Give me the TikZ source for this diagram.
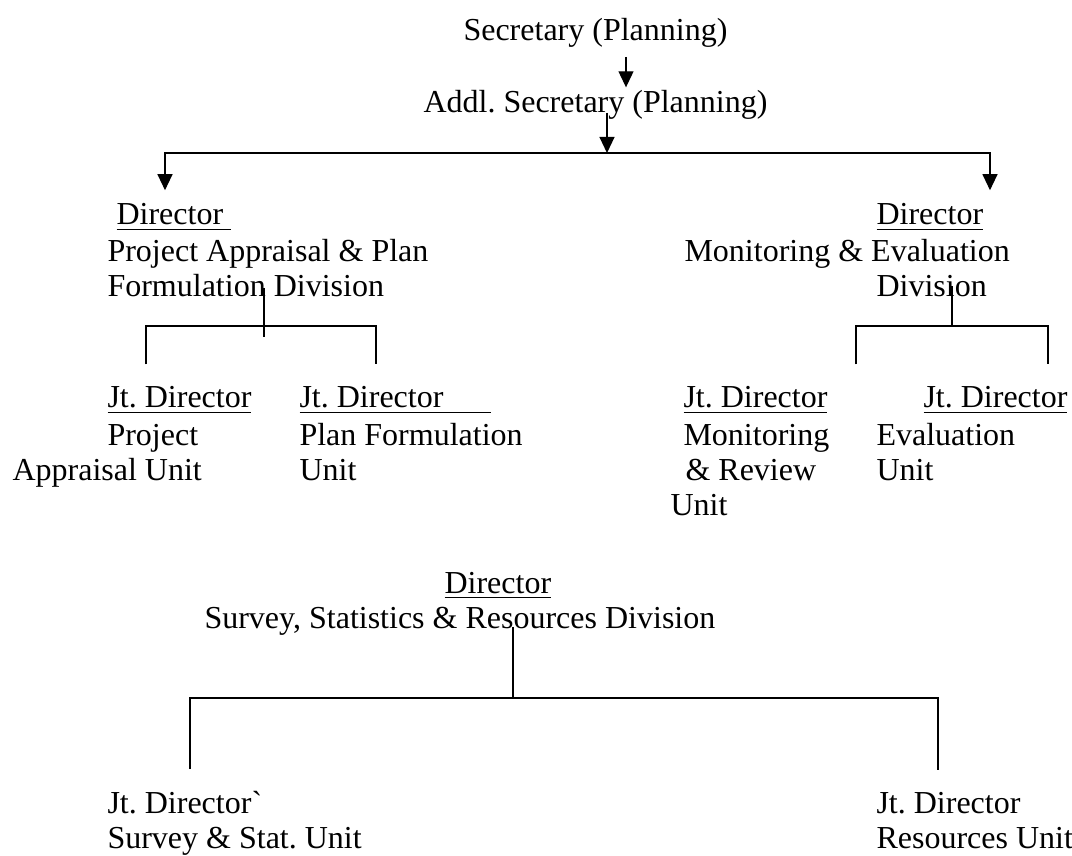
\documentclass[tikz,border=0pt]{standalone}
\usepackage{fontspec}
\setmainfont{Liberation Serif}[Ligatures=TeXOff]
\usepackage{tikz}
\usetikzlibrary{arrows.meta}
\frenchspacing
\tikzset{
  font=\fontsize{12}{13.8}\selectfont,
  lbl/.style={anchor=base west, inner sep=0pt, text=black},
  conn/.style={draw=black, line width=0.5pt},
  arr/.style={conn, -{Triangle[width=5.6pt,length=6pt]}},
  arrtwo/.style={conn, {Triangle[width=5.6pt,length=6pt]}-{Triangle[width=5.6pt,length=6pt]}}
}
\newcommand{\ul}[1]{\underline{#1}}

\begin{document}
\begin{tikzpicture}[x=0.375pt,y=-0.375pt]
  \useasboundingbox (0,0) rectangle (1072,856);

  % top posts
  \node[lbl] (sec)  at (463,41)  {Secretary (Planning)};
  \node[lbl] (addl) at (423,113) {Addl. Secretary (Planning)};

  % divisions
  \node[lbl] (pdir)  at (116,225) {\ul{Director\ }};
  \node[lbl] (pdiva) at (107,262) {Project Appraisal \& Plan};
  \node[lbl] (pdivb) at (107,297) {Formulation Division};
  \node[lbl] (mdir)  at (876,225) {\ul{Director}};
  \node[lbl] (mdiva) at (684,262) {Monitoring \& Evaluation};
  \node[lbl] (mdivb) at (876,297) {Division};

  % units under the divisions
  \node[lbl] (jpa)  at (107,408) {\ul{Jt. Director}};
  \node[lbl] (jpaa) at (107,445) {Project};
  \node[lbl] (jpab) at (12,480)  {Appraisal Unit};
  \node[lbl] (jpf)  at (299,408) {\ul{Jt. Director\hspace{18pt}}};
  \node[lbl] (jpfa) at (299,445) {Plan Formulation};
  \node[lbl] (jpfb) at (299,480) {Unit};
  \node[lbl] (jmr)  at (683,408) {\ul{Jt. Director}};
  \node[lbl] (jmra) at (683,445) {Monitoring};
  \node[lbl] (jmrb) at (685,480) {\& Review};
  \node[lbl] (jmrc) at (670,515) {Unit};
  \node[lbl] (jev)  at (923,408) {\ul{Jt. Director}};
  \node[lbl] (jeva) at (876,445) {Evaluation};
  \node[lbl] (jevb) at (876,480) {Unit};

  % survey division
  \node[lbl] (sdir) at (444,593) {\ul{Director}};
  \node[lbl] (sdiv) at (204,628) {Survey, Statistics \& Resources Division};
  \node[lbl] (jss)  at (107,813) {Jt. Director`};
  \node[lbl] (jssa) at (107,848) {Survey \& Stat. Unit};
  \node[lbl] (jru)  at (876,813) {Jt. Director};
  \node[lbl] (jrua) at (876,848) {Resources Unit};

  % junction points
  \coordinate (secdrop) at (626,57);
  \coordinate (topbus)  at (607,153);
  \coordinate (topL)    at (165,153);
  \coordinate (topR)    at (990,153);
  \coordinate (pbus)    at (264,326);
  \coordinate (pL)      at (146,326);
  \coordinate (pR)      at (376,326);
  \coordinate (mbus)    at (952,326);
  \coordinate (mL)      at (856,326);
  \coordinate (mR)      at (1048,326);
  \coordinate (sbus)    at (513,698);
  \coordinate (sL)      at (190,698);
  \coordinate (sR)      at (938,698);

  % edges
  \draw[arr, shorten >=1.1pt] (secdrop) -- (secdrop |- addl.north);
  \draw[arr] (addl.base -| topbus) -- (topbus);
  \draw[arrtwo, shorten <=4.9pt, shorten >=4.9pt]
    (pdir.north -| topL) -- (topL) -- (topR) -- (topR |- mdir.north);

  \draw[conn, shorten <=-3.4pt, shorten >=-4.1pt] (pdivb.base -| pbus) -- (pbus);
  \draw[conn, shorten <=8.25pt, shorten >=8.25pt]
    (jpa.north -| pL) -- (pL) -- (pR) -- (pR |- jpf.north);

  \draw[conn, shorten <=-4.1pt] (mdivb.base -| mbus) -- (mbus);
  \draw[conn, shorten <=8.25pt, shorten >=8.25pt]
    (jmr.north -| mL) -- (mL) -- (mR) -- (mR |- jev.north);

  \draw[conn, shorten <=-0.4pt] (sdiv.base -| sbus) -- (sbus);
  \draw[conn, shorten <=7.9pt, shorten >=7.9pt]
    (jss.north -| sL) -- (sL) -- (sR) -- (sR |- jru.north);
\end{tikzpicture}
\end{document}
